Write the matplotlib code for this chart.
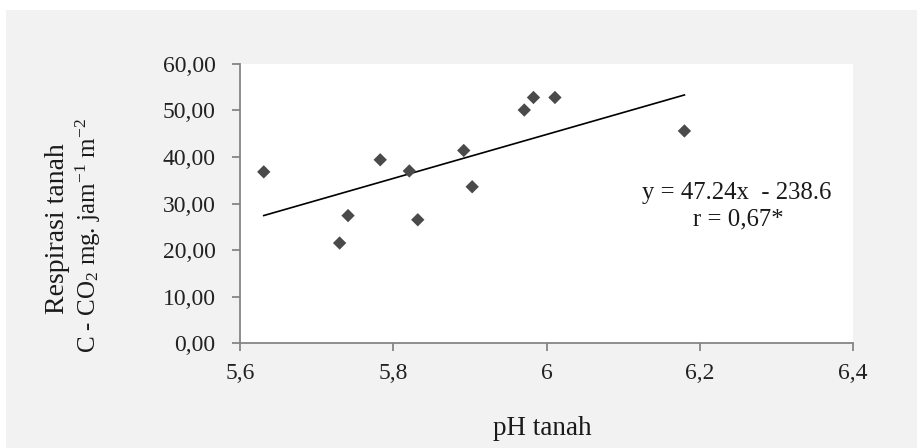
import matplotlib
matplotlib.use("Agg")
import matplotlib.pyplot as plt
from matplotlib.patches import Rectangle
import numpy as np

# ---- data ----
ph = [5.631, 5.730, 5.741, 5.783, 5.821, 5.832, 5.892, 5.903, 5.971, 5.983, 6.011, 6.180]
resp = [36.8, 21.5, 27.4, 39.4, 37.0, 26.5, 41.4, 33.6, 50.1, 52.8, 52.8, 45.6]
slope = 47.24
intercept = -238.6
r_value = "0,67*"
x_ticks = [5.6, 5.8, 6.0, 6.2, 6.4]
x_ticklabels = ["5,6", "5,8", "6", "6,2", "6,4"]
y_ticks = [0, 10, 20, 30, 40, 50, 60]
y_ticklabels = ["0,00", "10,00", "20,00", "30,00", "40,00", "50,00", "60,00"]
x_label = "pH tanah"
y_label_1 = "Respirasi tanah"
y_label_2 = r"C - CO$_2$ mg. jam$^{-1}$ m$^{-2}$"
eq_text = "y = 47.24x  - 238.6"
r_text = "r = " + r_value

plt.rcParams['font.family'] = ['Liberation Serif', 'DejaVu Serif']
plt.rcParams['mathtext.fontset'] = 'custom'
plt.rcParams['mathtext.rm'] = 'Liberation Serif'
plt.rcParams['mathtext.it'] = 'Liberation Serif:italic'
plt.rcParams['mathtext.default'] = 'rm'

W, H = 917, 448
fig = plt.figure(figsize=(W / 100, H / 100), dpi=100, facecolor='white')
# gray chart area background
fig.patches.append(Rectangle((6 / W, 0), 1 - 6 / W, 1 - 10 / H, transform=fig.transFigure,
                             facecolor='#f2f2f2', edgecolor='none', zorder=-10))

left, right, top, bottom = 240, 853, 64, 343
ax = fig.add_axes([left / W, 1 - bottom / H, (right - left) / W, (bottom - top) / H])
ax.set_zorder(1)
ax.set_facecolor('white')

ax.scatter(ph, resp, marker='D', s=6.8 ** 2, color='#4a4a4a', edgecolors='none', zorder=3)
xl = np.array([min(ph), max(ph)])
ax.plot(xl, slope * xl + intercept, color='black', lw=1.2, zorder=2)

ax.set_xlim(5.6, 6.4)
ax.set_ylim(0, 60)
ax.set_xticks(x_ticks)
ax.set_xticklabels(x_ticklabels)
ax.set_yticks(y_ticks)
ax.set_yticklabels(y_ticklabels)

for s in ['top', 'right']:
    ax.spines[s].set_visible(False)
for s in ['left', 'bottom']:
    ax.spines[s].set_color('#858585')
    ax.spines[s].set_linewidth(1.3)
ax.tick_params(axis='both', direction='out', length=6, width=1.3, color='#858585',
               labelsize=17, labelcolor='#222222')
ax.tick_params(axis='y', pad=11.5)
ax.tick_params(axis='x', pad=8.5)

fig.text(542 / W, 1 - 428 / H, x_label, ha='center', va='center', fontsize=19.5, color='#1a1a1a')
fig.text(57 / W, 1 - 229 / H, y_label_1, ha='center', va='center', rotation=90,
         fontsize=20, color='#1a1a1a')
fig.text(88 / W, 1 - 236 / H, y_label_2, ha='center', va='center', rotation=90,
         fontsize=18, color='#1a1a1a')

fig.text(737 / W, 1 - 193 / H, eq_text, ha='center', va='center', fontsize=17.8, color='#1a1a1a')
fig.text(738 / W, 1 - 219 / H, r_text, ha='center', va='center', fontsize=17.8, color='#1a1a1a')

fig.savefig('out.png', dpi=100, facecolor=fig.get_facecolor())
